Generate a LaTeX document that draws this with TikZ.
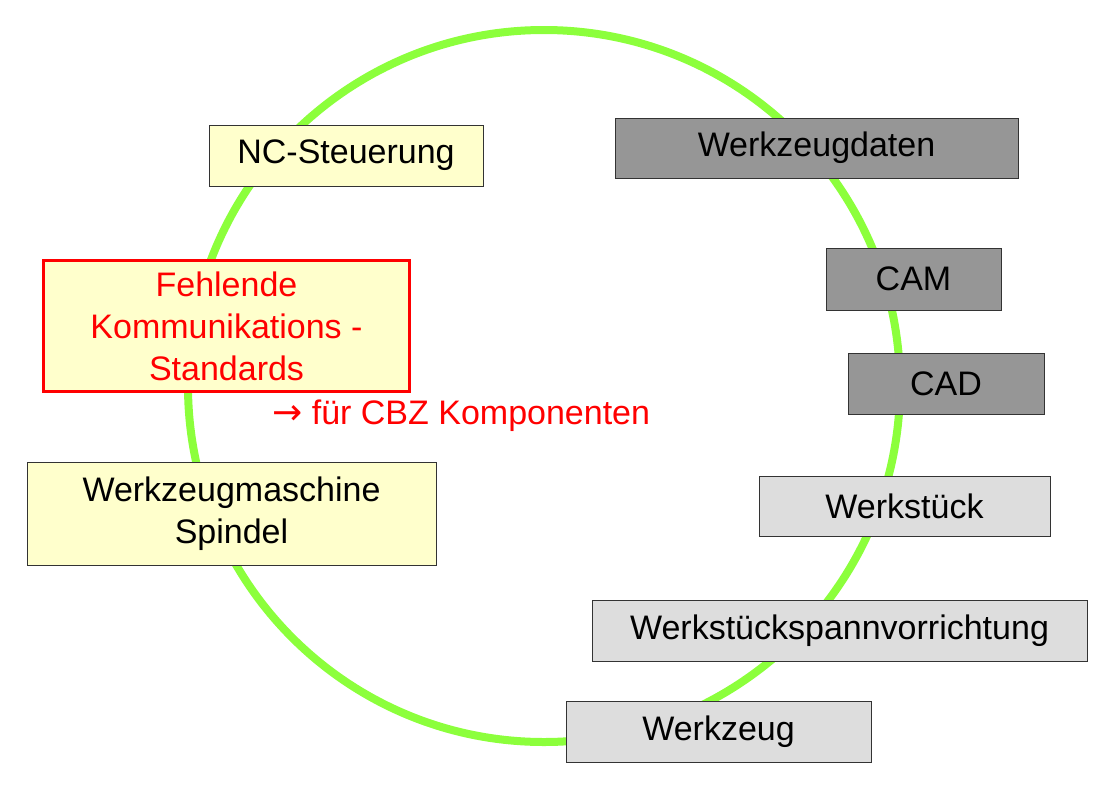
\documentclass[tikz,border=0pt]{standalone}
\usepackage{fontspec}
\setmainfont{Liberation Sans}
\newfontfamily\arrowfont{DejaVu Sans}
\definecolor{ringgreen}{HTML}{8CFF3C}
\definecolor{paleyellow}{HTML}{FFFFCC}
\definecolor{darkgraybox}{HTML}{969696}
\definecolor{lightgraybox}{HTML}{DDDDDD}
\definecolor{alertred}{HTML}{FF0000}
\begin{document}
\begin{tikzpicture}[x=1pt,y=-1pt,
  every node/.style={font=\fontsize{34}{42}\selectfont, inner sep=0pt, align=center},
  box/.style={draw=black!80, line width=0.9pt, minimum width=#1},
  yellowbox/.style={box=#1, fill=paleyellow},
  darkbox/.style={box=#1, fill=darkgraybox},
  lightbox/.style={box=#1, fill=lightgraybox},
  redbox/.style={draw=alertred, line width=3.5pt, fill=paleyellow, minimum width=#1, text=alertred},
]
\useasboundingbox (0,0) rectangle (1115,798);
% ring
\draw[ringgreen, line width=8pt] (544,386) circle[radius=356];
% left side
\node[yellowbox=274, minimum height=61] (nc) at (346,155.5) {NC-Steuerung};
\node[redbox=366, minimum height=131] (fehl) at (226.5,326) {Fehlende\\Kommunikations -\\Standards};
\node[text=alertred, anchor=west] (cbz) at (272,416) {{\arrowfont\fontsize{36}{42}\selectfont →} für CBZ Komponenten};
\node[yellowbox=409, minimum height=103] (wzm) at (231.5,513.5) {Werkzeugmaschine\\Spindel};
% right side
\node[darkbox=403, minimum height=60] (wzd) at (816.5,148) {Werkzeugdaten};
\node[darkbox=175, minimum height=62] (cam) at (913.5,279) {CAM};
\node[darkbox=196, minimum height=61] (cad) at (946,383.5) {CAD};
\node[lightbox=291, minimum height=60] (wst) at (904.5,506) {Werkstück};
\node[lightbox=495, minimum height=61] (wsv) at (839.5,630.5) {Werkstückspannvorrichtung};
\node[lightbox=305, minimum height=61] (wz) at (718.5,731.5) {Werkzeug};
\end{tikzpicture}
\end{document}
